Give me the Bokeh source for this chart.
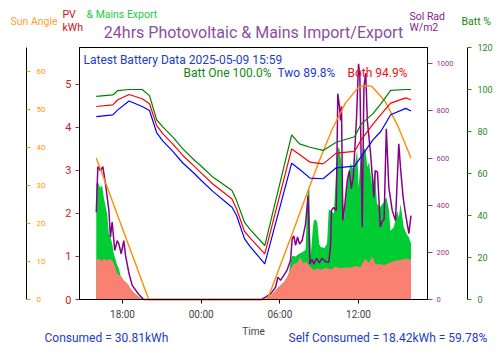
from bokeh.plotting import figure
from bokeh.models import (Range1d, LinearAxis, FixedTicker, ColumnDataSource, Label,
                          DatetimeTickFormatter, BoxAnnotation)
from bokeh.embed import file_html
from bokeh.resources import INLINE
import pandas as pd

# ---------------- data (hours after 2025-05-08 16:00) ----------------
batt_t = [0, 1.26, 1.64, 2.5, 3.5, 4.06, 4.6, 5.07, 5.84, 6.6, 7.5, 7.87, 8.89, 10.35, 10.7,
          11.3, 11.69, 12.85, 14.9, 15.5, 16.3, 17.3, 18.3, 19.7, 20.2, 21.1, 21.7, 22.45,
          23.6, 24.0]
batt_one = [96.7, 97.4, 99.5, 100.0, 100.0, 97.1, 85.6, 82.2, 77.3, 71.7, 66.2, 64.3, 58.3,
            51.9, 47.1, 36.8, 33.6, 25.7, 78.4, 74.1, 72.5, 71.0, 74.9, 77.5, 83.5, 88.5, 93.2,
            99.6, 100.0, 100.0]
batt_both = [91.9, 92.7, 95.1, 97.6, 95.6, 93.2, 82.9, 79.0, 74.0, 68.6, 63.3, 61.0, 55.0,
             47.9, 43.1, 32.5, 29.6, 21.7, 71.7, 69.0, 65.4, 64.6, 69.7, 70.5, 76.0, 83.5, 88.0,
             93.5, 96.0, 95.1]
batt_two = [87.1, 87.9, 90.3, 94.5, 91.9, 90.0, 79.5, 75.5, 70.5, 65.0, 59.9, 57.5, 51.5,
            43.9, 40.0, 29.0, 25.5, 17.0, 64.9, 62.0, 57.8, 57.5, 62.7, 63.5, 68.0, 76.0, 80.0,
            88.0, 91.0, 89.8]

sun_t = [0, 1, 2, 3, 4, 13.05, 14, 15, 16, 17, 18, 19, 20, 20.55, 21, 22, 23, 24]
sun_angle = [37.2, 28.0, 18.6, 9.3, 0.0, 0.0, 8.7, 17.8, 27.2, 36.4, 44.8, 51.6, 55.8, 56.2,
             56.0, 52.2, 45.6, 37.2]

rad_t = [0, 0.12, 0.32, 0.5, 0.7, 0.96, 1.08, 1.21, 1.41, 1.6, 1.72, 1.9, 2.1, 2.23, 2.5, 2.74,
         3.24, 3.62, 12.6, 12.9, 13.3, 13.67, 13.85, 14.05, 14.3, 14.56, 14.81, 14.94, 15.06,
         15.2, 15.35, 15.5, 15.7, 15.96, 16.15, 16.3, 16.45, 16.6, 16.8, 17.0, 17.2, 17.5,
         17.73, 17.86, 17.94, 18.1, 18.3, 18.42, 18.55, 18.63, 18.7, 18.8, 18.95, 19.14, 19.3,
         19.45, 19.6, 19.85, 20.0, 20.1, 20.28, 20.41, 20.55, 20.67, 20.92, 21.17, 21.28, 21.45,
         21.66, 21.79, 21.95, 22.12, 22.31, 22.57, 22.82, 23.07, 23.2, 23.4, 23.58, 23.84, 24.0]
sol_rad = [370, 564, 547, 564, 491, 378, 264, 328, 208, 250, 236, 194, 250, 187, 109, 60,
           21, 0, 0, 10, 24, 52, 95, 81, 102, 126, 165, 257, 270,
           230, 265, 235, 250, 320, 441, 151, 170, 150, 175, 155, 175, 160,
           158, 222, 378, 390, 378, 873, 816, 760, 820, 335, 400, 505, 547,
           470, 520, 773, 1000, 950, 307, 901, 960, 760, 618, 434, 547, 540,
           307, 330, 340, 724, 476, 378, 335, 661, 560, 434, 364, 279, 356]

pv_t = [0, 0.12, 0.3, 0.45, 0.57, 0.83, 0.96, 1.08, 1.21, 1.34, 1.5, 1.59, 1.72, 1.85, 2.1, 2.4,
        2.61, 2.9, 3.12, 3.4, 3.6, 12.7, 12.91, 13.29, 13.67, 13.92, 14.3, 14.56, 14.7, 14.81,
        14.94, 15.2, 15.4, 15.7, 15.96, 16.08, 16.15, 16.25, 16.35, 16.5, 16.59, 16.75, 16.85,
        17.0, 17.1, 17.4, 17.6, 17.73, 17.86, 18.12, 18.3, 18.42, 18.55, 18.76, 18.88, 19.14,
        19.39, 19.64, 19.9, 20.0, 20.15, 20.41, 20.55, 20.67, 20.8, 21.05, 21.23, 21.41, 21.66,
        21.9, 22.12, 22.31, 22.44, 22.69, 22.95, 23.07, 23.2, 23.45, 23.66, 23.84, 24.0]
pv_kwh = [2.69, 2.73, 2.6, 2.65, 2.38, 1.99, 1.53, 1.45, 1.3, 1.06, 0.9, 0.8, 0.72, 0.55, 0.44,
          0.36, 0.25, 0.15, 0.09, 0.03, 0.0, 0.0, 0.02, 0.09, 0.21, 0.29, 0.4, 0.52, 0.62, 0.87,
          1.02, 1.0, 1.05, 1.1, 1.15, 2.2, 2.6, 2.57, 1.0, 1.6, 1.84, 1.85, 1.8,
          1.3, 1.22, 1.2, 1.3, 2.1, 2.07, 2.0, 3.0, 3.54, 3.5, 3.0, 1.84, 2.77,
          3.16, 3.0, 3.47, 2.6, 3.2, 3.54, 3.45, 3.08, 3.2, 2.61, 3.0, 2.22, 2.15,
          2.25, 2.38, 2.1, 1.6, 1.68, 2.07, 1.9, 2.22, 1.68, 1.53, 1.45, 1.3]

self_t = [0, 0.19, 0.45, 0.6, 0.83, 1.0, 1.2, 1.34, 1.59, 1.85, 2.1, 2.4, 2.61, 2.9, 3.12, 3.4,
          3.6, 12.7, 12.91, 13.29, 13.67, 13.92, 14.3, 14.56, 14.81, 15.06, 15.3, 15.58, 15.75,
          16.0, 16.34, 16.6, 16.85, 17.1, 17.5, 17.9, 18.25, 18.6, 19.0, 19.4, 19.8, 20.15,
          20.5, 20.8, 21.05, 21.3, 21.66, 22.0, 22.4, 22.82, 23.2, 23.6, 24.0]
self_kwh = [0.91, 0.95, 0.9, 0.95, 0.9, 0.95, 0.9, 0.85, 0.6, 0.55, 0.44, 0.36, 0.25, 0.15, 0.09,
            0.03, 0.0, 0.0, 0.02, 0.09, 0.21, 0.29, 0.4, 0.52, 0.71, 0.83, 0.85, 0.98, 0.85,
            0.88, 0.75, 0.68, 0.72, 0.7, 0.73, 0.7, 0.77, 0.72, 0.75, 0.74, 0.78, 0.75,
            0.95, 0.85, 1.0, 0.82, 0.82, 0.8, 0.86, 0.9, 0.92, 0.95, 0.93]

x_tick_hours = [2, 8, 14, 20]          # 18:00, 00:00, 06:00, 12:00
kwh_ticks = [0, 1, 2, 3, 4, 5]
sun_ticks = [0, 10, 20, 30, 40, 50, 60]
rad_ticks = [0, 200, 400, 600, 800, 1000]
batt_ticks = [0, 20, 40, 60, 80, 100, 120]

# ---------------- geometry (page pixels) ----------------
W, H = 500, 353
L, R, T, B = 79, 427, 47, 299          # plot area
X_LO, X_HI = -1.28, 25.26              # hours shown in plot area
KWH = (0, 5.86)
SUN = (0, 66.2)
RAD = (0, 1069)
BAT = (0, 120)

START_MS = pd.Timestamp("2025-05-08 16:00").value // 10**6


def ms(h):
    return START_MS + h * 3600000.0


def mslist(hs):
    return [ms(h) for h in hs]


kx = (R - L) / (X_HI - X_LO)


def x_at_px(px):
    return ms(X_LO + (px - L) / kx)


def full_y(lo, hi):
    k = (B - T) / (hi - lo)
    return Range1d(lo - (H - B) / k, hi + T / k)


p = figure(width=W, height=H, x_axis_type="datetime", output_backend="svg",
           toolbar_location=None, min_border=0,
           x_range=Range1d(x_at_px(0), x_at_px(W)), y_range=full_y(*KWH))
p.outline_line_color = None
p.xgrid.visible = False
p.ygrid.visible = False
p.background_fill_color = "white"
p.border_fill_color = "white"
p.extra_y_ranges = {"sun": full_y(*SUN), "rad": full_y(*RAD), "batt": full_y(*BAT)}

FONT = "Roboto"

# areas
p.varea(x="x", y1=0, y2="y", source=ColumnDataSource(dict(x=mslist(pv_t), y=pv_kwh)),
        fill_color="#00cc33")
p.varea(x="x", y1=0, y2="y", source=ColumnDataSource(dict(x=mslist(self_t), y=self_kwh)),
        fill_color="salmon")

# lines
p.line(mslist(rad_t), sol_rad, y_range_name="rad", line_color="#880088", line_width=1.5)
p.line(mslist(sun_t), sun_angle, y_range_name="sun", line_color="darkorange", line_width=1.4)
p.line(mslist(batt_t), batt_one, y_range_name="batt", line_color="green", line_width=1.2)
p.line(mslist(batt_t), batt_both, y_range_name="batt", line_color="red", line_width=1.2)
p.line(mslist(batt_t), batt_two, y_range_name="batt", line_color="blue", line_width=1.2)

# frame outline around the plot area
p.add_layout(BoxAnnotation(left=ms(X_LO), right=ms(X_HI), bottom=KWH[0], top=KWH[1],
                           fill_alpha=0, line_color="black", line_width=1, line_alpha=1))

# x axis
xa = p.xaxis[0]
xa.fixed_location = KWH[0]
xa.bounds = (ms(X_LO), ms(X_HI))
xa.ticker = FixedTicker(ticks=mslist(x_tick_hours))
xa.formatter = DatetimeTickFormatter(hours="%H:%M", days="%H:%M", hourmin="%H:%M",
                                     minutes="%H:%M", minsec="%H:%M", seconds="%H:%M",
                                     months="%H:%M", years="%H:%M")
xa.axis_label = "Time"
xa.axis_label_text_font_style = "normal"
xa.axis_label_text_font_size = "10px"
xa.axis_label_text_font = FONT
xa.axis_label_standoff = 3
xa.major_label_text_font_size = "10px"
xa.major_label_text_font = FONT
xa.major_tick_out = 4
xa.major_tick_in = 0
xa.minor_tick_line_color = None
xa.major_label_standoff = 5


def style_y(ax, ticks, color, size, tick_out, standoff, bounds):
    ax.ticker = FixedTicker(ticks=ticks)
    ax.bounds = bounds
    ax.major_label_text_color = color
    ax.major_label_text_font_size = size
    ax.major_label_text_font = FONT
    ax.major_tick_line_color = color
    ax.major_tick_out = tick_out
    ax.major_tick_in = 0
    ax.minor_tick_line_color = None
    ax.major_label_standoff = standoff
    ax.axis_line_color = "black"


# kWh axis (left edge of plot area)
ya = p.yaxis[0]
ya.fixed_location = ms(X_LO)
style_y(ya, kwh_ticks, "#cc2222", "11px", 4, 4, KWH)

# sun angle axis (far left, labels to its right)
sa = LinearAxis(y_range_name="sun", fixed_location=x_at_px(26))
style_y(sa, sun_ticks, "#ff9900", "8px", 4, 6, SUN)
p.add_layout(sa, "right")

# solar radiation axis (right edge of plot area)
ra = LinearAxis(y_range_name="rad", fixed_location=ms(X_HI))
style_y(ra, rad_ticks, "#993399", "7.5px", 5, 4, RAD)
p.add_layout(ra, "right")

# battery axis
ba = LinearAxis(y_range_name="batt", fixed_location=x_at_px(467))
style_y(ba, batt_ticks, "#228822", "9px", 4, 6, BAT)
p.add_layout(ba, "right")


def lab(x, y, text, color, size, align="left"):
    p.add_layout(Label(x=x, y=H - y, x_units="screen", y_units="screen", text=text,
                       text_color=color, text_font_size=size, text_font=FONT,
                       text_align=align, text_baseline="middle"))


lab(253, 32, "24hrs Photovoltaic & Mains Import/Export", "#8a4f9e", "16px", align="center")
lab(10, 21, "Sun Angle", "#ffa030", "10.5px")
lab(62, 14, "PV", "#cc1111", "10.5px")
lab(62, 27, "kWh", "#cc1111", "10.5px")
lab(86, 14, "& Mains Export", "#22cc44", "10.5px")
lab(409, 15.5, "Sol Rad", "#882288", "10.5px")
lab(409, 27, "W/m2", "#882288", "10.5px")
lab(461, 21, "Batt %", "#118811", "10.5px")
lab(83, 59, "Latest Battery Data 2025-05-09 15:59", "#1a3cc8", "12px")
lab(183, 72, "Batt One 100.0%", "#118811", "12px")
lab(277, 72, "Two 89.8%", "#1a3cc8", "12px")
lab(347, 72, "Both 94.9%", "#ee1111", "12px")
lab(44, 337, "Consumed = 30.81kWh", "#1a3cc8", "12px")
lab(288, 337, "Self Consumed = 18.42kWh = 59.78%", "#1a3cc8", "12px")

open("out.html", "w").write(file_html(p, INLINE))
